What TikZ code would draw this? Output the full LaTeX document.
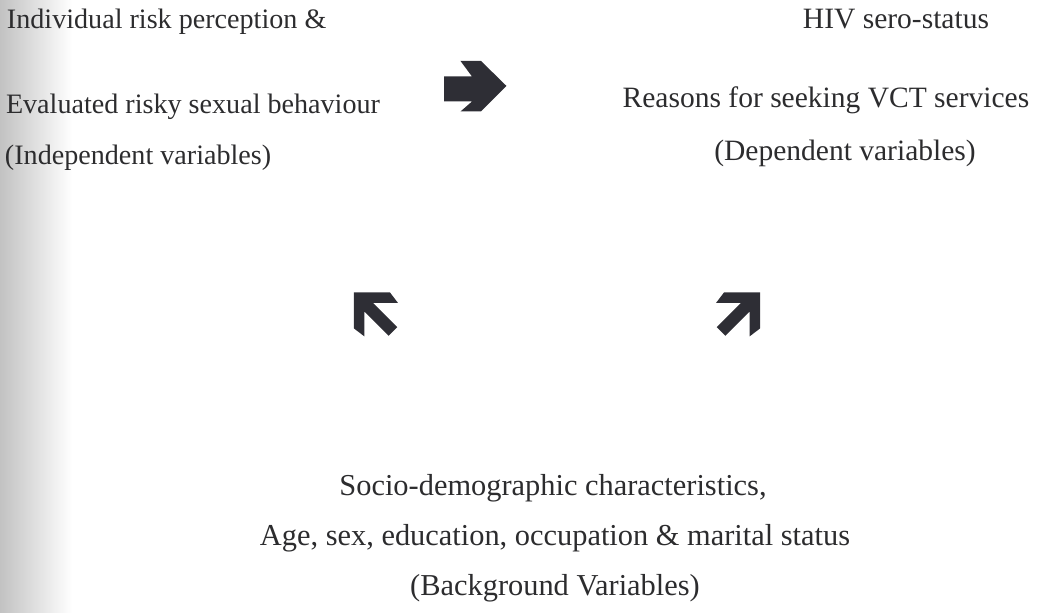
\documentclass[tikz,border=0pt]{standalone}
\usepackage{fontspec}
\setmainfont{Liberation Serif}
\usepackage{tikz}

\definecolor{inkgray}{HTML}{2C2C2E}
\definecolor{arrowink}{HTML}{2E2E35}

\tikzset{
  varlabel/.style={inner sep=0pt, outer sep=0pt, text=inkgray,
    font=\fontsize{#1}{10}\selectfont},
  varlabel/.default=8.4,
  blockarrow/.style={fill=arrowink, draw=none}
}

\begin{document}
\begin{tikzpicture}
        \useasboundingbox (0,0) rectangle (10.38,6.13);%
        \shade[left color=black!24, right color=white, draw=none] (0,0) rectangle (0.72,6.13);%
        % independent variables
        \node[varlabel=8.0, anchor=base west] (perception) at (0.07,5.84) {Individual risk perception \&};%
        \node[varlabel=8.0, anchor=base west] (behaviour) at (0.06,4.99) {Evaluated risky sexual behaviour};%
        \node[varlabel=8.0, anchor=base west] (indep) at (0.05,4.48) {(Independent variables)};%
        % dependent variables
        \node[varlabel, anchor=base] (serostatus) at (8.96,5.84) {HIV sero-status};%
        \node[varlabel, anchor=base] (reasons) at (8.26,5.05) {Reasons for seeking VCT services};%
        \node[varlabel, anchor=base] (dep) at (8.45,4.52) {(Dependent variables)};%
        % background variables
        \node[varlabel=8.65, anchor=base] (socio) at (5.53,1.17) {Socio-demographic characteristics,};%
        \node[varlabel=8.65, anchor=base] (age) at (5.55,0.67) {Age, sex, education, occupation \& marital status};%
        \node[varlabel=8.65, anchor=base] (backgr) at (5.55,0.17) {(Background Variables)};%
        % arrows
        \fill[blockarrow] (4.44,5.365) -- ++(0.28,0) -- ++(-0.115,0.155) -- ++(0.205,0) -- ++(0.255,-0.25) -- ++(-0.255,-0.255) -- ++(-0.205,0) -- ++(0.115,0.1) -- ++(-0.28,0) -- cycle;%
        \foreach \cx/\sx in {3.54/1,7.60/-1}{%
          \fill[blockarrow, shift={(\cx,3.205)}, xscale=\sx] (0,0) -- (0.36,0) -- (0.44,-0.105) -- (0.191,-0.105) -- (0.433,-0.347) -- (0.347,-0.433) -- (0.105,-0.191) -- (0.105,-0.44) -- (0,-0.36) -- cycle;%
        }
      \end{tikzpicture}
\end{document}
